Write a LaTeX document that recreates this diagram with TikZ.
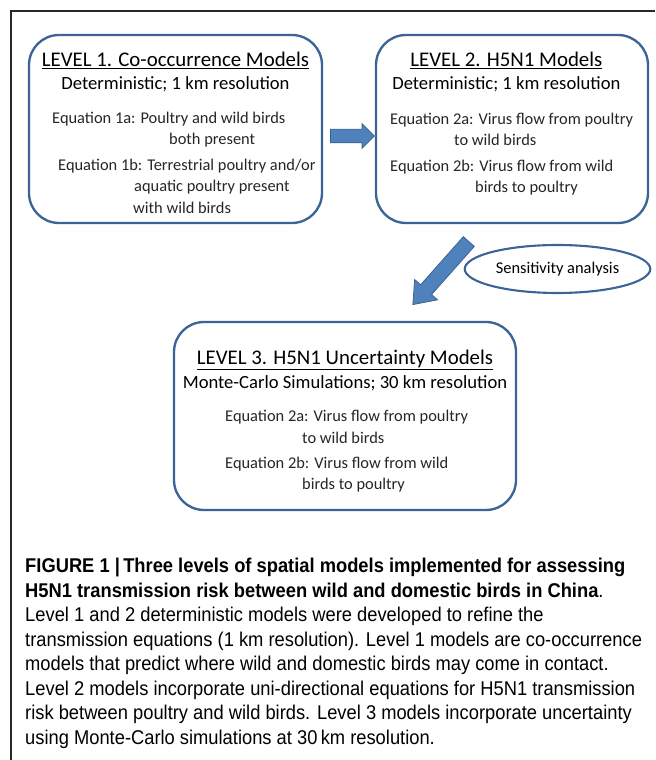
\documentclass[tikz,border=0pt]{standalone}
\usepackage{fontspec}
\setmainfont{Carlito}
\newfontfamily\capfont[FakeStretch=0.92]{Liberation Sans}
\usetikzlibrary{shapes.arrows, shapes.geometric, positioning, calc}
\definecolor{lvlblue}{RGB}{60, 100, 150}
\definecolor{arrfill}{RGB}{79, 129, 189}
\definecolor{arrline}{RGB}{56, 93, 138}
\definecolor{framegray}{RGB}{40, 40, 40}

\begin{document}
\begin{tikzpicture}[
  lvlbox/.style={draw=lvlblue, line width=2pt, rounded corners=0.9cm, fill=white, minimum height=5.64cm, inner sep=0pt},
  lvltitle/.style={font=\fontsize{17.8}{21}\selectfont, inner sep=0pt},
  lvlsub/.style={font=\fontsize{15.9}{19}\selectfont, inner sep=0pt},
  eqtext/.style={font=\fontsize{14}{18.3}\selectfont, align=left, anchor=north west, inner sep=0pt, text=black!85},
  fatarr/.style={single arrow, draw=arrline, fill=arrfill, line width=0.6pt, inner xsep=0pt, single arrow head indent=0pt},
  captext/.style={font=\capfont\fontsize{17}{20.9}\selectfont, align=left, anchor=north west, inner sep=0pt}
]
  \useasboundingbox (0,0) rectangle (19.65,22.8);
  \draw[framegray, line width=0.9pt] (0.33,0) -- (0.33,22.47) -- (19.65,22.47);

  % the three levels
  \node[lvlbox, minimum width=8.79cm] (L1) at (5.265, 18.93) {};
  \node[lvlbox, minimum width=8.16cm] (L2) at (15.36, 18.93) {};
  \node[lvlbox, minimum width=10.26cm] (L3) at (10.35, 10.32) {};

  \node[lvltitle] (L1t) at ([yshift=-0.8cm]L1.north) {\underline{LEVEL 1. Co-occurrence Models}};
  \node[lvlsub] (L1s) at ([yshift=-1.5cm]L1.north) {Deterministic; 1 km resolution};
  \node[eqtext] (L1e) at (1.56, 19.45) {Equation 1a: Poultry and wild birds\\
    \hspace*{3.51cm}both present\\[3.4pt]
    \hspace*{0.18cm}Equation 1b: Terrestrial poultry and/or\\
    \hspace*{2.46cm}aquatic poultry present\\
    \hspace*{2.43cm}with wild birds};

  \node[lvltitle] (L2t) at ([xshift=-0.17cm, yshift=-0.8cm]L2.north) {\underline{LEVEL 2. H5N1 Models}};
  \node[lvlsub] (L2s) at ([xshift=-0.17cm, yshift=-1.5cm]L2.north) {Deterministic; 1 km resolution};
  \node[eqtext] (L2e) at (11.7, 19.42) {Equation 2a: Virus flow from poultry\\
    \hspace*{1.92cm}to wild birds\\[3.4pt]
    Equation 2b: Virus flow from wild\\
    \hspace*{2.55cm}birds to poultry};

  \node[lvltitle] (L3t) at ([yshift=-1.17cm]L3.north) {\underline{LEVEL 3. H5N1 Uncertainty Models}};
  \node[lvlsub] (L3s) at ([yshift=-1.86cm]L3.north) {Monte-Carlo Simulations; 30 km resolution};
  \node[eqtext] (L3e) at (6.75, 10.5) {Equation 2a: Virus flow from poultry\\
    \hspace*{2.31cm}to wild birds\\[3.4pt]
    Equation 2b: Virus flow from wild\\
    \hspace*{2.31cm}birds to poultry};

  \node[ellipse, draw=lvlblue, line width=1.8pt, minimum width=5.07cm, minimum height=1.44cm,
    font=\fontsize{14}{16}\selectfont] (sens) at (16.725, 14.73) {Sensitivity analysis};

  % block arrows
  \node[fatarr, minimum height=1.32cm, inner ysep=0.195cm, single arrow head extend=0.165cm]
    (a12) at ([yshift=-0.21cm]$(L1.east)!0.5!(L2.west)$) {};
  \node[fatarr, minimum height=2.53cm, inner ysep=0.21cm, single arrow head extend=0.24cm,
    single arrow tip angle=75, rotate=228.4] (a23) at (13.32, 14.715) {};

  % caption
  \node[captext] (cap) at (0.75, 6.05) {\textbf{FIGURE 1 |\,Three levels of spatial models implemented for assessing}\\
    \textbf{H5N1 transmission risk between wild and domestic birds in China}.\\
    Level 1 and 2 deterministic models were developed to refine the\\
    transmission equations (1 km resolution). Level 1 models are co-occurrence\\
    models that predict where wild and domestic birds may come in contact.\\
    Level 2 models incorporate uni-directional equations for H5N1 transmission\\
    risk between poultry and wild birds. Level 3 models incorporate uncertainty\\
    using Monte-Carlo simulations at 30\,km resolution.};
\end{tikzpicture}
\end{document}
